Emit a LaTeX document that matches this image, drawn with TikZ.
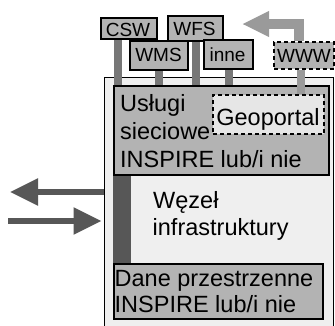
\documentclass[tikz,border=0pt]{standalone}
\usepackage{fontspec}
\setmainfont{Liberation Sans}
\usetikzlibrary{arrows.meta}

% drawing order: node frame, feeder links, panels, web link, everything else
\pgfdeclarelayer{frame}
\pgfdeclarelayer{links}
\pgfdeclarelayer{panels}
\pgfdeclarelayer{weblink}
\pgfsetlayers{frame,links,panels,weblink,main}

\definecolor{boxgray}{HTML}{B3B3B3}
\definecolor{nodebg}{HTML}{EFEFEF}
\definecolor{portalbg}{HTML}{E6E6E6}
\definecolor{darkgray}{HTML}{575757}
\definecolor{linkgray}{HTML}{777777}
\definecolor{webgray}{HTML}{9A9A9A}

\begin{document}
\begin{tikzpicture}[x=1pt,y=-1pt,
  box/.style={draw=black, line width=2pt, fill=boxgray, inner sep=0pt, anchor=north west},
  dashbox/.style={box, dash pattern=on 4pt off 3pt},
  lbl/.style={inner sep=0pt, anchor=base, font=\fontsize{19}{20}\selectfont},
  txt/.style={inner sep=0pt, anchor=base west, font=\fontsize{23.5}{28}\selectfont},
  link/.style={draw=linkgray, line width=8pt},
  bigarrow/.style={draw=darkgray, line width=5.5pt,
    -{Triangle[length=28pt,width=26pt]}}
]
\useasboundingbox (0,0) rectangle (335,325);
\clip (0,0) rectangle (335,325);

% infrastructure node frame
\begin{pgfonlayer}{frame}
  \fill[white] (0,0) rectangle (335,325);
  \node[draw=black, line width=1.4pt, fill=nodebg, inner sep=0pt, anchor=north west,
        minimum width=229pt, minimum height=260pt] (outer) at (104,77) {};
\end{pgfonlayer}

% services and data panels
\begin{pgfonlayer}{panels}
  \node[box, minimum width=215pt, minimum height=89pt] (svc) at (113,85) {};
  \node[box, minimum width=209pt, minimum height=55pt] (data) at (113,263) {};
\end{pgfonlayer}
\node[dashbox, fill=portalbg, minimum width=111pt, minimum height=39pt] (geo) at (212,94) {};

% service endpoints
\node[box, minimum width=56pt, minimum height=21pt] (csw) at (100,16.5) {};
\node[box, minimum width=58pt, minimum height=29pt] (wms) at (129,40) {};
\node[box, minimum width=55pt, minimum height=25pt] (wfs) at (167,15) {};
\node[box, minimum width=49pt, minimum height=29pt] (inne) at (203,39) {};
\node[dashbox, minimum width=60pt, minimum height=27pt] (www) at (273,41) {};

\node[lbl] (cswT) at (128,36) {CSW};
\node[lbl] (wmsT) at (158.5,61.5) {WMS};
\node[lbl] (wfsT) at (194.5,35) {WFS};
\node[lbl] (inneT) at (227.5,61.5) {inne};
\node[lbl] (wwwT) at (304,62.5) {WWW};

% links from the endpoints into the services panel
\begin{pgfonlayer}{links}
  \draw[link] ([xshift=18pt]csw.south west) -- ([xshift=18pt]csw.south west |- svc.north);
  \draw[link] (wms.south) -- (wms.south |- svc.north);
  \draw[link] (wfs.south) -- (wfs.south |- svc.north);
  \draw[link] (inne.south) -- (inne.south |- svc.north);
  % bar joining services and data
  \fill[darkgray] (svc.south west) rectangle ([xshift=18pt]data.north west);
\end{pgfonlayer}

% web link to the geoportal and the outgoing web arrow
\coordinate (webtip) at (242,24);
\begin{pgfonlayer}{weblink}
  \draw[draw=webgray, line width=8pt] ([xshift=-3.5pt]www.south) -- ([xshift=-3.5pt]www.south |- geo.north);
  \draw[draw=webgray, line width=10pt, line join=miter,
        -{Triangle[length=27pt,width=24pt]}] ([xshift=-5pt]www.north) |- (webtip);
\end{pgfonlayer}

% exchange arrows on the left
\coordinate (outL) at (10,192);
\coordinate (inL) at (8,221);
\draw[bigarrow] (outer.west |- outL) -- (outL);
\draw[bigarrow, shorten >=2.5pt] (inL) -- (inL -| outer.west);

% texts
\node[txt] (svcA) at (120,111.5) {Usługi};
\node[txt] (svcB) at (120,139.5) {sieciowe};
\node[txt] (svcC) at (120,167) {INSPIRE lub/i nie};
\node[txt, anchor=base] (geoT) at (268,125) {Geoportal};
\node[txt] (nodeA) at (153,208) {Węzeł};
\node[txt] (nodeB) at (152.5,235.5) {infrastruktury};
\node[txt] (dataA) at (114.5,286) {Dane przestrzenne};
\node[txt] (dataB) at (114.5,312) {INSPIRE lub/i nie};
\end{tikzpicture}
\end{document}
